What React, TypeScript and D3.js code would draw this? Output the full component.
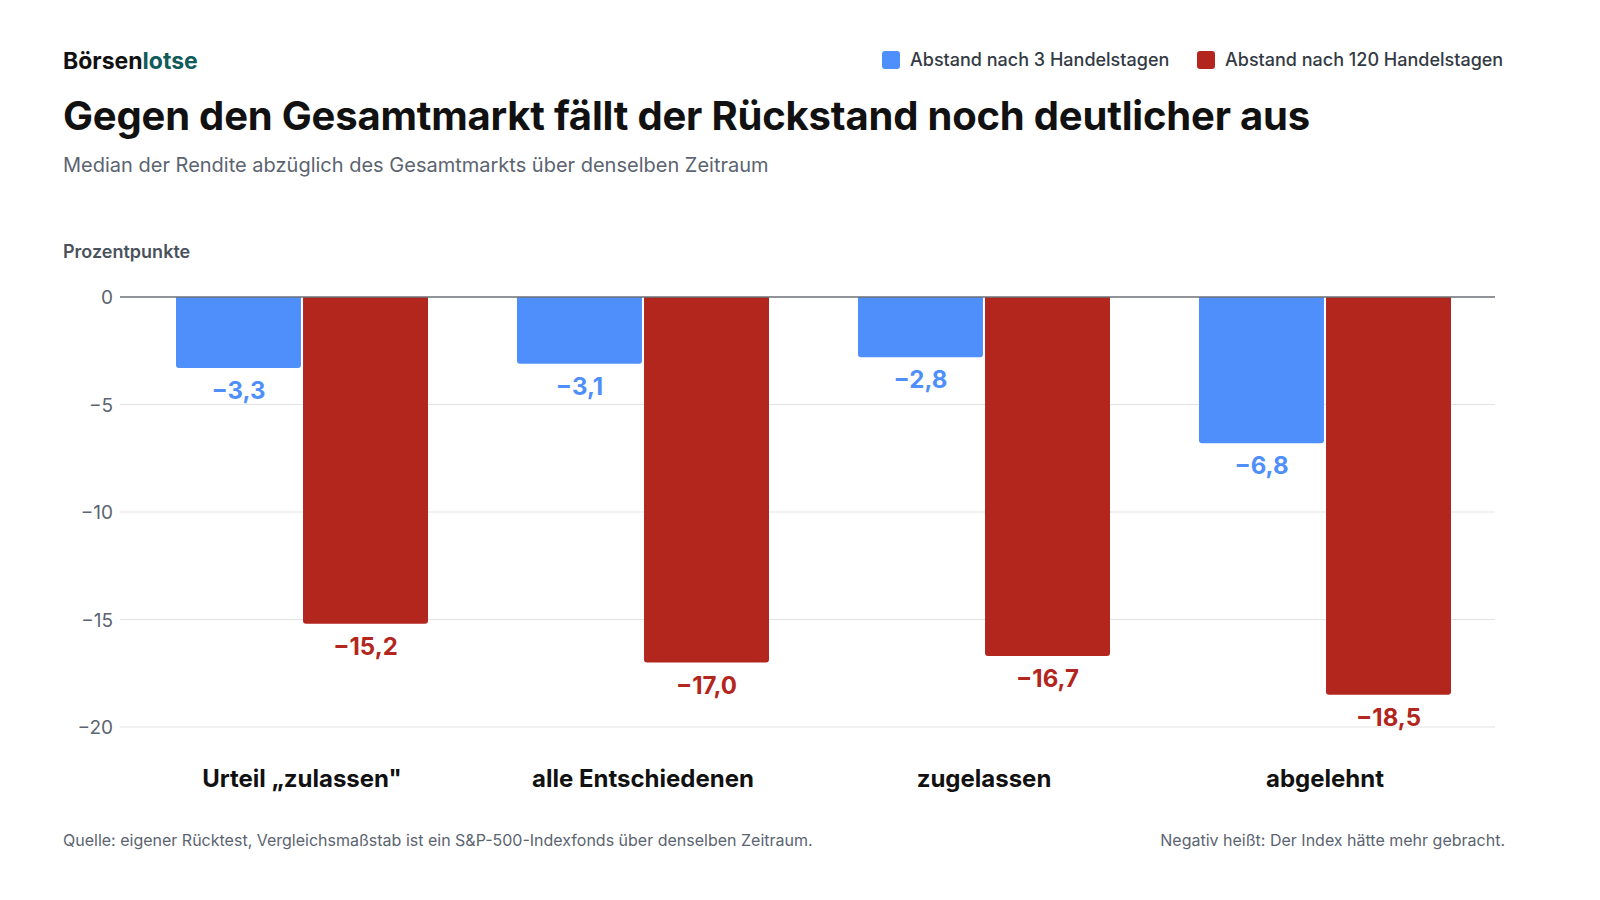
import React from "react";
import * as d3 from "d3";

const categories = ["Urteil „zulassen\"", "alle Entschiedenen", "zugelassen", "abgelehnt"];
const series3 = [-3.3, -3.1, -2.8, -6.8];
const series120 = [-15.2, -17.0, -16.7, -18.5];
const ticks = [0, -5, -10, -15, -20];
const seriesNames = ["Abstand nach 3 Handelstagen", "Abstand nach 120 Handelstagen"];
const colors = ["#4f8ffc", "#b3261e"];

const fmt = (v: number) => "\u2212" + Math.abs(v).toFixed(1).replace(".", ",");

export default function App() {
  const W = 1600, H = 900;
  const left = 120, right = 1495;
  const y = d3.scaleLinear().domain([0, -20]).range([297, 727]);
  const x0 = d3.scaleBand().domain(categories).range([176, 1451]).paddingInner(0.261).paddingOuter(0);
  const x1 = d3.scaleBand().domain(["a", "b"]).range([0, x0.bandwidth()]).paddingInner(0.016);
  const font = "Inter, 'Noto Sans', sans-serif";
  return (
    <svg width={W} height={H} style={{ display: "block", margin: -8, fontFamily: font }}>
      <rect width={W} height={H} fill="#fff" />
      <text x={63} y={69} fontSize={23} fontWeight={700} fill="#111">Börsen<tspan fill="#0f5c5a">lotse</tspan></text>
      {seriesNames.map((n, i) => {
        const lx = i === 0 ? 882 : 1197;
        return (
          <g key={n}>
            <rect x={lx} y={51} width={18} height={18} rx={3} fill={colors[i]} />
            <text x={lx + 28} y={66} fontSize={18} fontWeight={500} fill="#333a44">{n}</text>
          </g>
        );
      })}
      <text x={63} y={130} fontSize={40} fontWeight={700} fill="#111" letterSpacing={-0.2}>Gegen den Gesamtmarkt fällt der Rückstand noch deutlicher aus</text>
      <text x={63} y={172} fontSize={20} fill="#5b6470">Median der Rendite abzüglich des Gesamtmarkts über denselben Zeitraum</text>
      <text x={63} y={258} fontSize={18} fontWeight={600} fill="#4a525c">Prozentpunkte</text>
      {ticks.map(t => (
        <g key={t}>
          {t !== 0 && <line x1={left} x2={right} y1={y(t)} y2={y(t)} stroke="#e3e3e3" strokeWidth={1.2} />}
          <text x={113} y={y(t) + 7} textAnchor="end" fontSize={19} fill="#5b6470">{t === 0 ? "0" : "\u2212" + Math.abs(t)}</text>
        </g>
      ))}
      {categories.map((c, i) => {
        const gx = x0(c)!;
        const vals = [series3[i], series120[i]];
        return (
          <g key={c}>
            {vals.map((v, j) => {
              const bx = gx + x1(j === 0 ? "a" : "b")!;
              const bw = x1.bandwidth();
              return (
                <g key={j}>
                  <path d={`M${bx},${y(0)}V${y(v) - 3}Q${bx},${y(v)} ${bx + 3},${y(v)}H${bx + bw - 3}Q${bx + bw},${y(v)} ${bx + bw},${y(v) - 3}V${y(0)}Z`} fill={colors[j]} />
                  <text x={bx + bw / 2} y={y(v) + 31} textAnchor="middle" fontSize={24} fontWeight={700} fill={colors[j]}>{fmt(v)}</text>
                </g>
              );
            })}
            <text x={gx + x0.bandwidth() / 2} y={787} textAnchor="middle" fontSize={24} fontWeight={700} fill="#111">{c}</text>
          </g>
        );
      })}
      <line x1={left} x2={right} y1={y(0)} y2={y(0)} stroke="#6b6f75" strokeWidth={1.5} />
      <text x={63} y={846} fontSize={16} fill="#5b6470">Quelle: eigener Rücktest, Vergleichsmaßstab ist ein S&amp;P-500-Indexfonds über denselben Zeitraum.</text>
      <text x={1505} y={846} textAnchor="end" fontSize={16} fill="#5b6470">Negativ heißt: Der Index hätte mehr gebracht.</text>
    </svg>
  );
}
